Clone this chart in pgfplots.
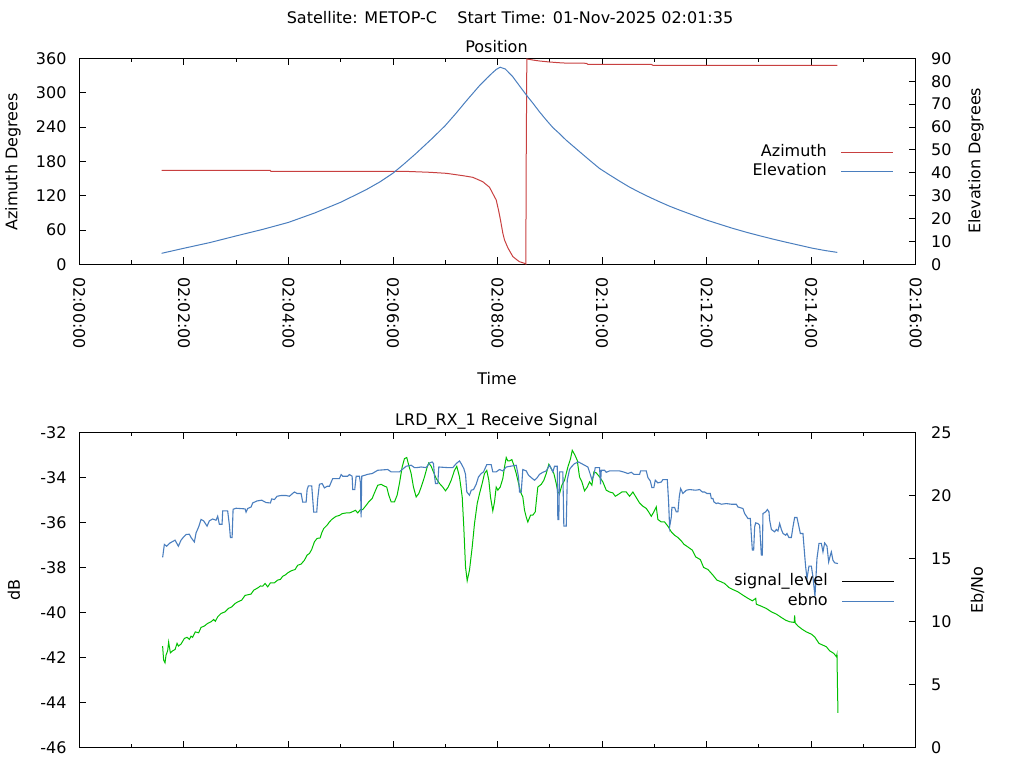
\documentclass[border=0pt]{standalone}
\usepackage{fontspec}
\setmainfont{DejaVu Sans}
\usepackage{pgfplots}
\pgfplotsset{compat=1.18}
\definecolor{azred}{RGB}{200,64,64}
\definecolor{elblue}{RGB}{74,126,190}
\definecolor{sgreen}{RGB}{0,192,0}
\pgfplotsset{
  gp/.style={
    scale only axis, enlargelimits=false,
    xmin=0, xmax=16,
    tick align=inside,
    major tick length=7pt, minor tick length=4pt,
    every tick/.style={black, line width=0.8pt},
    axis line style={black, line width=1pt},
    tick label style={font=\fontsize{16}{19}\selectfont, inner sep=0pt},
    /pgf/number format/assume math mode=true,
    xtick={0,2,...,16}, minor xtick={1,3,...,15},
    legend cell align=right, legend plot pos=right,
    legend image code/.code={\draw[#1] (0pt,0pt) -- (52pt,0pt);},
  },
  gpleg/.style={legend style={draw=none, fill=none, inner sep=0pt,
    column sep=14pt, row sep=3.3pt,
    nodes={inner sep=0pt, text height=12pt, text depth=4pt},
    font=\fontsize{16}{19}\selectfont}},
}
\begin{document}
\fontsize{16}{19}\selectfont
\begin{tikzpicture}[x=1pt,y=1pt]
% ---------------- top panel, azimuth ----------------
\begin{axis}[gp, at={(79.3pt,503.7pt)}, anchor=south west, width=836.4pt, height=206pt,
  ymin=0, ymax=360, ytick={0,60,...,360}, ytick pos=left,
  xticklabels={02:00:00,02:02:00,02:04:00,02:06:00,02:08:00,02:10:00,02:12:00,02:14:00,02:16:00},
  xticklabel style={yshift=-12.7pt, rotate=-90, anchor=west},
  yticklabel style={xshift=-12.6pt},
]
\addplot[azred, line width=1pt] coordinates {
(1.575,164.3) (3.650,164.3) (3.665,162.5) (6.300,162.2) (6.699,160.8) (7.018,159.0)
(7.336,154.9) (7.527,152.0) (7.719,144.3) (7.847,134.6) (7.975,112.4) (8.019,94.9)
(8.057,77.4) (8.102,54.2) (8.134,42.5) (8.197,29.0) (8.293,13.5) (8.389,6.5)
(8.421,4.5) (8.517,1.7) (8.542,0.5) (8.549,180.5) (8.561,358.8) (8.675,357.0)
(8.804,355.3) (8.995,353.5) (9.250,351.8) (9.697,351.3) (9.728,349.5) (10.941,349.5)
(10.972,347.8) (14.502,347.8)
};
\end{axis}
% ---------------- top panel, elevation ----------------
\begin{axis}[gp, gpleg, at={(79.3pt,503.7pt)}, anchor=south west, width=836.4pt, height=206pt,
  ymin=0, ymax=90, ytick={0,10,...,90},
  hide x axis, axis y line*=right,
  yticklabel style={xshift=15.3pt},
  legend style={at={(0.9741,0.4952)}, anchor=east},
]
\addlegendimage{azred, line width=1pt}
\addlegendentry{Azimuth}
\addplot[elblue, line width=1pt] coordinates {
(1.575,4.8) (2.0,7.0) (2.5,9.5) (3.0,12.4) (3.5,15.2) (4.0,18.3) (4.5,22.4) (5.0,27.1)
(5.48,32.5) (5.75,36.0) (6.0,39.8) (6.2,43.6) (6.44,48.4) (6.76,55.2) (7.0,60.6)
(7.2,65.8) (7.40,71.3) (7.65,77.9) (7.80,81.4) (7.91,83.8) (7.98,85.2) (8.05,86.1)
(8.15,85.3) (8.29,82.0) (8.40,78.6) (8.55,74.0) (8.68,70.3) (8.80,66.7) (8.93,63.1)
(9.06,59.7) (9.19,57.0) (9.31,54.3) (9.57,49.2) (9.76,45.5) (9.95,41.9) (10.14,39.1)
(10.33,36.4) (10.52,33.8) (10.72,31.4) (10.91,29.3) (11.10,27.3) (11.29,25.4)
(11.48,23.7) (11.74,21.5) (11.99,19.4) (12.25,17.5) (12.50,15.7) (12.76,14.0)
(13.01,12.5) (13.27,11.0) (13.53,9.6) (13.78,8.3) (14.03,7.0) (14.27,6.0) (14.50,5.2)
};
\addlegendentry{Elevation}
\end{axis}
% ---------------- bottom panel, signal level ----------------
\begin{axis}[gp, at={(79.3pt,20.3pt)}, anchor=south west, width=836.4pt, height=315.4pt,
  ymin=-46, ymax=-32, ytick={-46,-44,...,-32}, ytick pos=left,
  xticklabels={},
  yticklabel style={xshift=-12.6pt},
]
\addplot[sgreen, line width=1pt] coordinates {
(1.594,-41.49) (1.613,-42.11) (1.640,-42.23) (1.659,-41.89) (1.690,-41.70) (1.709,-41.31)
(1.742,-41.79) (1.786,-41.70) (1.832,-41.64) (1.870,-41.37) (1.895,-41.49) (1.946,-41.40)
(2.010,-41.15) (2.061,-41.10) (2.105,-41.19) (2.138,-41.05) (2.168,-41.10) (2.220,-40.86)
(2.283,-40.90) (2.329,-40.66) (2.392,-40.60) (2.456,-40.48) (2.521,-40.41) (2.570,-40.31)
(2.603,-40.39) (2.647,-40.19) (2.712,-40.04) (2.789,-39.97) (2.852,-39.82) (2.915,-39.75)
(2.980,-39.60) (3.030,-39.53) (3.106,-39.45) (3.171,-39.24) (3.286,-39.18) (3.336,-39.01)
(3.426,-38.89) (3.464,-38.82) (3.508,-38.83) (3.554,-38.71) (3.604,-38.86) (3.656,-38.68)
(3.732,-38.68) (3.795,-38.56) (3.847,-38.53) (3.891,-38.39) (3.937,-38.34) (3.987,-38.24)
(4.052,-38.15) (4.128,-38.09) (4.178,-37.90) (4.243,-37.85) (4.306,-37.68) (4.358,-37.45)
(4.402,-37.38) (4.446,-37.20) (4.498,-36.86) (4.549,-36.71) (4.607,-36.69) (4.637,-36.47)
(4.676,-36.27) (4.741,-36.12) (4.785,-35.98) (4.829,-35.87) (4.880,-35.78) (4.913,-35.73)
(4.976,-35.69) (5.028,-35.61) (5.104,-35.58) (5.168,-35.58) (5.231,-35.52) (5.282,-35.46)
(5.326,-35.58) (5.378,-35.43) (5.422,-35.43) (5.474,-35.28) (5.537,-35.09) (5.602,-34.94)
(5.646,-34.69) (5.709,-34.35) (5.774,-34.31) (5.837,-34.39) (5.881,-34.43) (5.920,-34.79)
(5.966,-35.09) (6.029,-35.09) (6.080,-34.79) (6.124,-34.27) (6.176,-33.54) (6.220,-33.17)
(6.264,-33.12) (6.302,-33.46) (6.348,-33.83) (6.392,-34.43) (6.444,-34.87) (6.494,-34.72)
(6.540,-34.43) (6.603,-33.98) (6.655,-33.54) (6.685,-33.36) (6.731,-33.51) (6.775,-33.76)
(6.827,-34.05) (6.890,-34.27) (6.953,-34.43) (7.005,-34.60) (7.057,-34.43) (7.114,-34.13)
(7.177,-33.69) (7.221,-33.51) (7.273,-33.98) (7.325,-34.87) (7.355,-36.20) (7.388,-37.97)
(7.420,-38.59) (7.464,-38.12) (7.516,-37.09) (7.560,-36.05) (7.612,-35.16) (7.656,-34.72)
(7.707,-34.27) (7.751,-33.83) (7.795,-33.69) (7.834,-34.13) (7.866,-34.87) (7.910,-35.49)
(7.943,-35.09) (7.975,-34.43) (8.006,-34.57) (8.052,-34.43) (8.102,-34.05) (8.134,-33.54)
(8.167,-33.12) (8.197,-33.27) (8.230,-33.27) (8.274,-33.21) (8.312,-33.46) (8.358,-33.83)
(8.389,-34.13) (8.440,-34.65) (8.484,-34.87) (8.517,-35.46) (8.549,-35.76) (8.580,-35.98)
(8.632,-35.68) (8.676,-35.68) (8.722,-35.53) (8.741,-35.09) (8.771,-34.43) (8.837,-34.31)
(8.886,-34.13) (8.932,-33.83) (8.982,-33.42) (9.028,-33.61) (9.078,-33.83) (9.123,-34.27)
(9.154,-34.65) (9.187,-34.72) (9.231,-34.35) (9.282,-34.13) (9.346,-33.54) (9.397,-33.17)
(9.430,-32.80) (9.474,-32.98) (9.525,-33.24) (9.569,-33.98) (9.614,-34.20) (9.665,-34.60)
(9.717,-34.43) (9.761,-34.20) (9.805,-34.35) (9.843,-33.76) (9.889,-33.80) (9.952,-33.98)
(10.015,-34.20) (10.080,-34.57) (10.144,-34.65) (10.207,-34.69) (10.253,-34.84) (10.316,-34.75)
(10.379,-34.65) (10.463,-34.65) (10.526,-34.84) (10.590,-34.65) (10.655,-34.90) (10.718,-35.14)
(10.781,-35.28) (10.846,-35.38) (10.890,-35.53) (10.942,-35.73) (10.991,-35.53) (11.037,-35.31)
(11.068,-35.87) (11.133,-35.98) (11.196,-35.98) (11.260,-36.17) (11.325,-36.42) (11.388,-36.57)
(11.451,-36.67) (11.516,-36.82) (11.566,-36.97) (11.642,-37.09) (11.726,-37.23) (11.790,-37.53)
(11.880,-37.65) (11.943,-38.00) (12.025,-38.09) (12.121,-38.34) (12.197,-38.56) (12.281,-38.64)
(12.344,-38.71) (12.427,-38.89) (12.503,-38.98) (12.599,-39.08) (12.695,-39.23) (12.791,-39.37)
(12.875,-39.48) (12.940,-39.37) (12.951,-39.63) (13.047,-39.72) (13.143,-39.82) (13.239,-39.97)
(13.334,-40.07) (13.430,-40.22) (13.512,-40.34) (13.589,-40.41) (13.675,-40.44) (13.684,-40.13)
(13.694,-40.46) (13.748,-40.60) (13.832,-40.75) (13.908,-40.86) (14.004,-40.96) (14.067,-41.08)
(14.150,-41.37) (14.226,-41.45) (14.291,-41.52) (14.354,-41.70) (14.431,-41.81) (14.483,-41.96)
(14.494,-41.85) (14.502,-43.12) (14.513,-44.45)
};
\end{axis}
% ---------------- bottom panel, Eb/No ----------------
\begin{axis}[gp, gpleg, at={(79.3pt,20.3pt)}, anchor=south west, width=836.4pt, height=315.4pt,
  ymin=0, ymax=25, ytick={0,5,...,25},
  hide x axis, axis y line*=right,
  yticklabel style={xshift=15.3pt},
  legend style={at={(0.9753,0.4953)}, anchor=east},
]
\addlegendimage{black, line width=1pt}
\addlegendentry{signal\_level}
\addplot[elblue, line width=1.1pt] coordinates {
(1.594,15.08) (1.627,16.11) (1.671,15.97) (1.736,16.23) (1.832,16.45) (1.895,15.97)
(1.946,16.45) (1.996,16.71) (2.042,16.90) (2.105,16.92) (2.138,16.66) (2.201,16.31)
(2.234,17.03) (2.283,17.50) (2.329,18.09) (2.379,17.98) (2.444,17.56) (2.488,17.98)
(2.551,18.13) (2.616,18.03) (2.647,18.35) (2.679,17.71) (2.731,17.71) (2.743,18.77)
(2.838,18.77) (2.871,17.64) (2.890,16.66) (2.923,16.66) (2.942,18.90) (2.999,18.98)
(3.171,18.93) (3.190,18.67) (3.221,18.96) (3.286,19.08) (3.317,19.40) (3.401,19.56)
(3.489,19.62) (3.573,19.43) (3.656,19.40) (3.680,19.72) (3.732,19.67) (3.784,19.93)
(3.860,19.99) (3.956,19.99) (4.019,19.93) (4.063,20.09) (4.115,20.27) (4.167,20.15)
(4.243,20.15) (4.274,19.46) (4.339,19.46) (4.358,20.46) (4.383,20.75) (4.446,20.75)
(4.484,18.67) (4.542,18.67) (4.561,19.75) (4.593,20.88) (4.645,20.94) (4.689,20.59)
(4.741,20.72) (4.785,20.72) (4.817,21.04) (4.848,21.33) (4.976,21.33) (5.009,21.65)
(5.039,21.52) (5.135,21.52) (5.168,21.65) (5.219,21.52) (5.231,20.46) (5.269,20.46)
(5.296,21.52) (5.359,21.52) (5.378,20.99) (5.391,18.25) (5.403,21.52) (5.518,21.67)
(5.602,21.73) (5.709,21.99) (5.901,22.05) (5.966,21.86) (6.124,21.86) (6.176,22.05)
(6.253,22.31) (6.348,22.39) (6.412,22.20) (6.455,22.20) (6.540,22.25) (6.635,22.20)
(6.699,22.57) (6.750,22.65) (6.775,22.52) (6.794,21.60) (6.813,20.94) (6.858,20.94)
(6.877,22.25) (7.049,22.20) (7.145,22.20) (7.210,22.52) (7.273,22.73) (7.305,22.52)
(7.355,22.13) (7.388,21.67) (7.413,20.27) (7.464,20.01) (7.497,20.41) (7.541,20.46)
(7.592,20.88) (7.636,21.46) (7.688,21.73) (7.732,21.86) (7.795,22.44) (7.879,22.44)
(7.910,21.86) (7.975,21.86) (8.038,22.05) (8.102,21.94) (8.167,22.25) (8.358,22.39)
(8.402,21.46) (8.421,20.27) (8.454,20.27) (8.484,22.05) (8.549,21.94) (8.593,21.60)
(8.645,21.41) (8.708,21.20) (8.760,21.41) (8.804,21.67) (8.867,21.83) (8.932,21.94)
(8.995,22.39) (9.059,21.86) (9.091,22.31) (9.143,22.31) (9.154,18.09) (9.173,18.09)
(9.187,21.86) (9.250,21.86) (9.269,17.56) (9.315,17.56) (9.334,21.20) (9.378,22.05)
(9.411,22.25) (9.474,22.52) (9.550,22.65) (9.665,22.39) (9.728,22.25) (9.780,21.60)
(9.805,21.25) (9.843,21.60) (9.870,22.20) (9.952,22.20) (9.971,20.88) (9.985,21.99)
(10.048,21.99) (10.080,21.83) (10.144,21.94) (10.335,21.94) (10.431,21.83) (10.494,21.73)
(10.559,21.83) (10.609,21.67) (10.718,21.67) (10.737,21.94) (10.846,21.94) (10.877,21.41)
(10.923,21.14) (10.953,20.62) (10.991,20.62) (11.018,21.20) (11.068,20.99) (11.133,21.06)
(11.164,21.25) (11.248,21.25) (11.273,19.48) (11.292,17.50) (11.325,18.29) (11.336,19.04)
(11.388,19.04) (11.420,18.69) (11.451,18.69) (11.478,19.93) (11.503,20.54) (11.547,20.15)
(11.612,20.41) (11.675,20.46) (11.790,20.41) (11.866,20.46) (11.918,20.27) (11.962,20.27)
(12.006,20.15) (12.071,20.15) (12.090,19.75) (12.121,19.75) (12.140,19.48) (12.186,19.35)
(12.216,19.40) (12.281,19.30) (12.377,19.35) (12.473,19.30) (12.568,19.30) (12.599,19.08)
(12.695,18.96) (12.727,18.56) (12.791,18.17) (12.837,18.17) (12.856,16.84) (12.875,15.66)
(12.900,15.66) (12.919,17.50) (12.938,17.82) (12.982,17.77) (13.014,17.64) (13.047,15.26)
(13.066,15.26) (13.078,18.56) (13.129,18.69) (13.162,18.88) (13.193,18.69) (13.206,18.03)
(13.239,17.30) (13.301,17.11) (13.334,17.30) (13.365,17.18) (13.397,17.77) (13.430,17.30)
(13.461,16.98) (13.512,16.84) (13.537,16.98) (13.575,16.66) (13.621,16.66) (13.652,17.50)
(13.684,18.25) (13.728,18.25) (13.767,17.50) (13.793,16.98) (13.843,16.98) (13.876,15.26)
(13.895,14.33) (13.920,13.41) (13.958,14.39) (14.004,14.39) (14.034,13.54) (14.073,12.01)
(14.111,15.00) (14.150,16.19) (14.195,16.19) (14.226,15.52) (14.258,16.23) (14.303,15.97)
(14.335,14.73) (14.367,15.26) (14.386,15.52) (14.417,14.86) (14.450,14.65) (14.513,14.60)
};
\addlegendentry{ebno}
\end{axis}
% ---------------- titles and axis labels ----------------
\node[anchor=base] at (510,744.7) {Satellite: METOP-C\ \ \ \ Start Time: 01-Nov-2025 02:01:35};
\node[anchor=base] at (496.5,715.3) {Position};
\node[anchor=base] at (497,383) {Time};
\node[anchor=base] at (496.5,342) {LRD\_RX\_1 Receive Signal};
\node[rotate=90] at (13,606.2) {Azimuth Degrees};
\node[rotate=90] at (976,607.2) {Elevation Degrees};
\node[rotate=90] at (14,178) {dB};
\node[rotate=90] at (977.5,178) {Eb/No};
\pgfresetboundingbox
\useasboundingbox (0,0) rectangle (1024,768);
\end{tikzpicture}
\end{document}
